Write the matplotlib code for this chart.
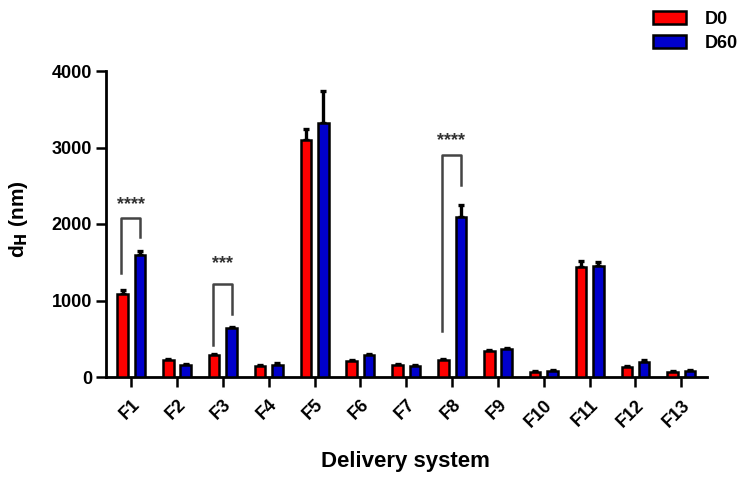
import matplotlib
matplotlib.use("Agg")
import matplotlib.pyplot as plt
import numpy as np
from matplotlib.patches import Patch

plt.rcParams['font.family'] = ['Liberation Sans', 'DejaVu Sans']

categories = ["F1", "F2", "F3", "F4", "F5", "F6", "F7", "F8", "F9", "F10", "F11", "F12", "F13"]
d0 = [1090, 218, 284, 144, 3103, 205, 153, 218, 340, 65, 1438, 131, 65]
d0_err = [45, 15, 15, 15, 145, 15, 15, 15, 15, 12, 75, 15, 12]
d60 = [1600, 153, 641, 162, 3320, 284, 144, 2092, 370, 78, 1447, 196, 78]
d60_err = [45, 15, 15, 15, 420, 15, 15, 150, 15, 12, 50, 20, 12]
series_names = ["D0", "D60"]

# significance annotations: (category index, left bottom, top, right bottom, label)
sig_index = [0, 2, 7]
sig_left_bottom = [1360, 414, 597]
sig_top = [2083, 1220, 2898]
sig_right_bottom = [1830, 828, 2506]
sig_label = ["****", "***", "****"]
sig_text_y = [2258, 1482, 3094]

fig = plt.figure(figsize=(7.52, 4.79), dpi=100)
ax = fig.add_axes([106/752, 102/479, 601/752, 306/479])

x = np.arange(len(categories))
w = 0.23
off = 0.19
ax.bar(x - off, d0, w, color='#ff0000', edgecolor='black', linewidth=1.8, zorder=3)
ax.bar(x + off, d60, w, color='#0000cc', edgecolor='black', linewidth=1.8, zorder=3)
ax.errorbar(x - off, d0, yerr=[np.zeros(len(d0)), d0_err], fmt='none', ecolor='black',
            elinewidth=2.4, capsize=2.5, capthick=2.4, zorder=2)
ax.errorbar(x + off, d60, yerr=[np.zeros(len(d60)), d60_err], fmt='none', ecolor='black',
            elinewidth=2.4, capsize=2.5, capthick=2.4, zorder=2)

for i, lb, tp, rb, lab, ty in zip(sig_index, sig_left_bottom, sig_top, sig_right_bottom, sig_label, sig_text_y):
    xl = i - off - 0.03
    xr = i + off
    ax.plot([xl, xl, xr, xr], [lb, tp, tp, rb], color='#444444', lw=1.8, zorder=4)
    ax.text((xl + xr) / 2, ty, lab, ha='center', va='center', fontsize=13,
            fontweight='bold', color='#333333')

ax.set_xlim(-0.55, 12.56)
ax.set_ylim(0, 4000)
ax.set_yticks([0, 1000, 2000, 3000, 4000])
ax.set_xticks(x)
ax.set_xticklabels(categories, rotation=45, ha='right', rotation_mode='anchor')
for lab in ax.get_xticklabels() + ax.get_yticklabels():
    lab.set_fontweight('bold')
    lab.set_fontsize(13)
ax.tick_params(axis='both', width=1.8, length=7, direction='out', color='black')
ax.tick_params(axis='x', pad=7)
ax.tick_params(axis='y', pad=3)
for s in ['top', 'right']:
    ax.spines[s].set_visible(False)
for s in ['left', 'bottom']:
    ax.spines[s].set_linewidth(2)

fig.text(405/752, 1 - 461/479, "Delivery system", ha='center', va='center',
         fontsize=16, fontweight='bold')
fig.text(18/752, 1 - 219/479, r"d$_\mathbf{H}$ (nm)", ha='center', va='center',
         rotation=90, fontsize=15, fontweight='bold')

handles = [Patch(facecolor='#ff0000', edgecolor='black', linewidth=1.8),
           Patch(facecolor='#0000cc', edgecolor='black', linewidth=1.8)]
fig.legend(handles, series_names, loc='upper left', bbox_to_anchor=(642/752, 1.0),
           frameon=False, prop={'size': 13, 'weight': 'bold'}, handlelength=1.85,
           handleheight=0.72, handletextpad=1.05, labelspacing=0.4, borderaxespad=0.2)

fig.savefig("out.png", dpi=100)
